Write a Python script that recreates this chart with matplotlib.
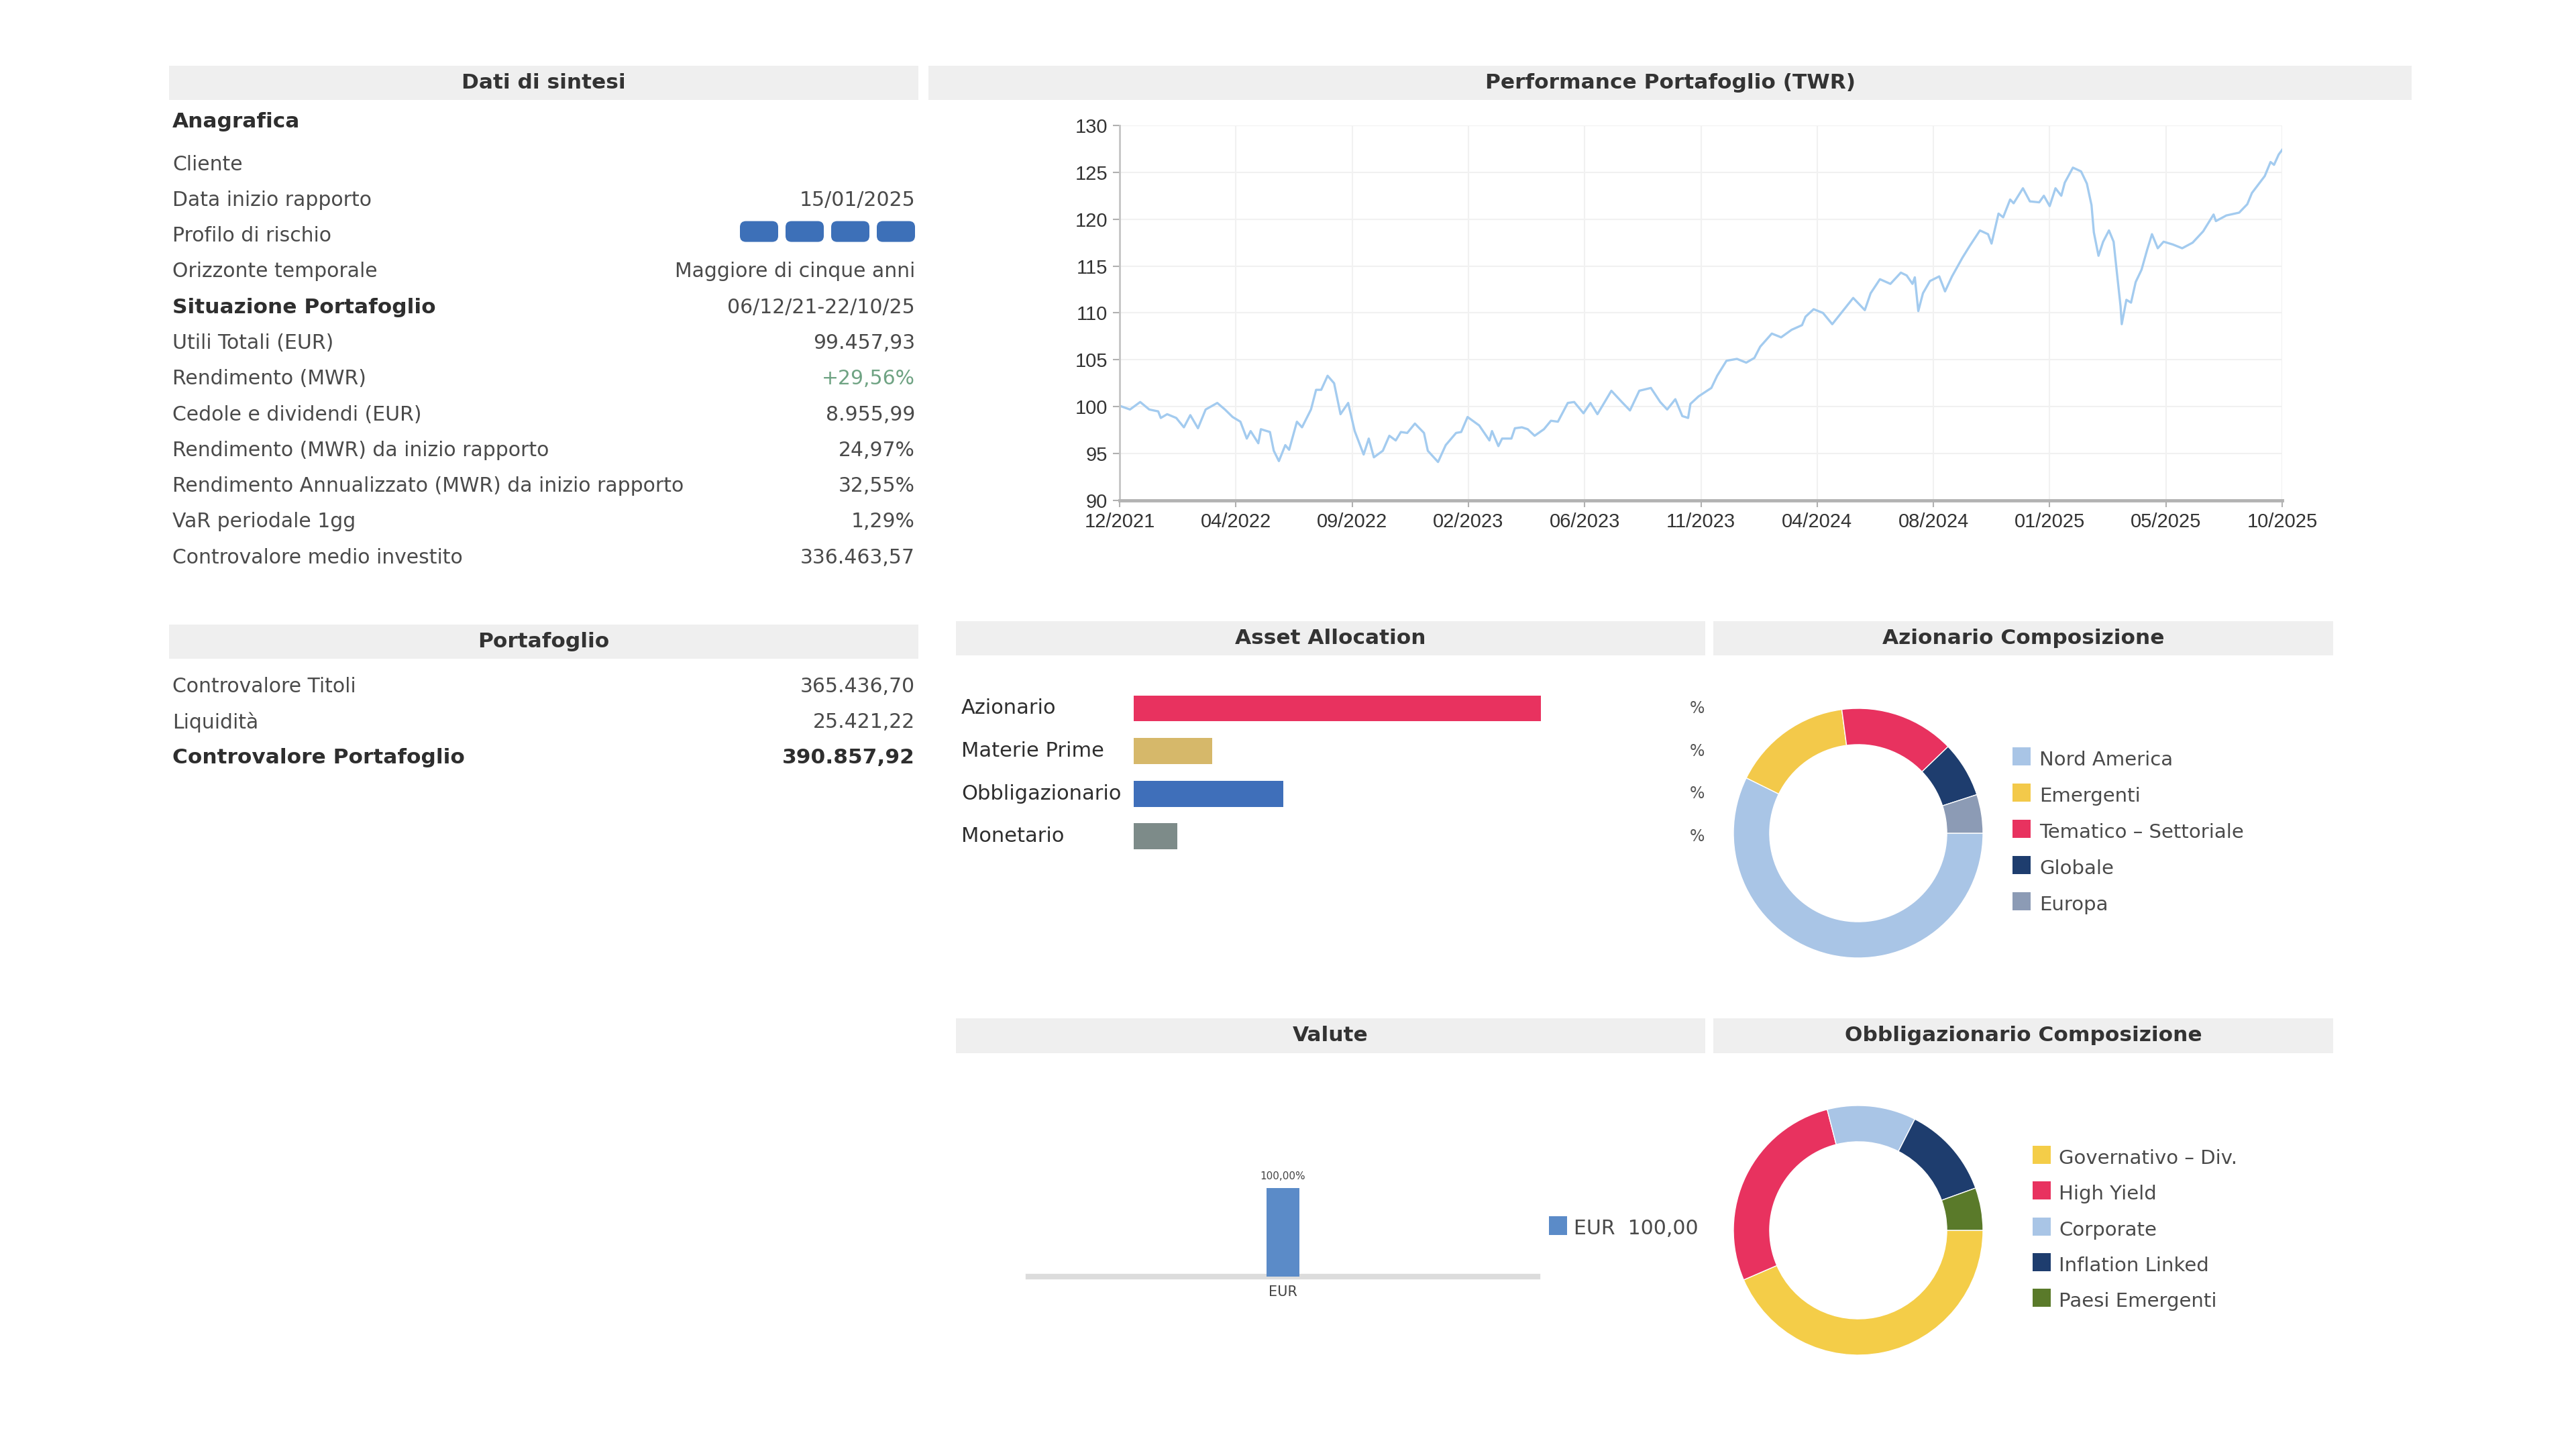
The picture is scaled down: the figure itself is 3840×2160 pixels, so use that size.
import matplotlib
matplotlib.use("Agg")
import matplotlib.pyplot as plt
from matplotlib.patches import Rectangle, FancyBboxPatch

plt.rcParams['font.family'] = ['DejaVu Sans']

# --- dati di sintesi ---
anagrafica_labels = ["Cliente", "Data inizio rapporto", "Profilo di rischio", "Orizzonte temporale"]
anagrafica_values = ["", "15/01/2025", "", "Maggiore di cinque anni"]
risk_level = 4
periodo = "06/12/21-22/10/25"
situazione_labels = ["Utili Totali (EUR)", "Rendimento (MWR)", "Cedole e dividendi (EUR)",
                     "Rendimento (MWR) da inizio rapporto",
                     "Rendimento Annualizzato (MWR) da inizio rapporto",
                     "VaR periodale 1gg", "Controvalore medio investito"]
situazione_values = ["99.457,93", "+29,56%", "8.955,99", "24,97%", "32,55%", "1,29%", "336.463,57"]

portafoglio_labels = ["Controvalore Titoli", "Liquidità", "Controvalore Portafoglio"]
portafoglio_values = ["365.436,70", "25.421,22", "390.857,92"]

# --- performance (posizione in intervalli fra i tick dell'asse x) ---
perf_ticks = ["12/2021", "04/2022", "09/2022", "02/2023", "06/2023", "11/2023",
              "04/2024", "08/2024", "01/2025", "05/2025", "10/2025"]
perf_x = [0.0, 0.089, 0.177, 0.255, 0.332, 0.354, 0.409, 0.487, 0.553, 0.608, 0.674, 0.74,
          0.84, 0.906, 0.972, 1.039, 1.094, 1.127, 1.193, 1.215, 1.293, 1.326, 1.37, 1.425,
          1.458, 1.525, 1.569, 1.646, 1.69, 1.734, 1.789, 1.845, 1.9, 1.966, 2.022, 2.099,
          2.143, 2.187, 2.264, 2.32, 2.375, 2.419, 2.474, 2.54, 2.618, 2.651, 2.739, 2.805,
          2.894, 2.938, 2.993, 3.093, 3.181, 3.203, 3.258, 3.29, 3.37, 3.4, 3.46, 3.51,
          3.57, 3.65, 3.71, 3.77, 3.855, 3.91, 3.99, 4.05, 4.11, 4.23, 4.32, 4.39, 4.47,
          4.57, 4.65, 4.71, 4.78, 4.84, 4.89, 4.91, 4.98, 5.09, 5.14, 5.22, 5.31, 5.39,
          5.46, 5.51, 5.61, 5.69, 5.78, 5.87, 5.9, 5.97, 6.05, 6.13, 6.22, 6.31, 6.41,
          6.46, 6.54, 6.63, 6.72, 6.77, 6.82, 6.84, 6.87, 6.91, 6.97, 7.05, 7.1, 7.16,
          7.25, 7.31, 7.4, 7.47, 7.5, 7.56, 7.6, 7.66, 7.69, 7.77, 7.83, 7.91, 7.95, 8.0,
          8.05, 8.1, 8.13, 8.2, 8.27, 8.32, 8.36, 8.38, 8.42, 8.46, 8.51, 8.55, 8.58,
          8.61, 8.62, 8.66, 8.7, 8.74, 8.79, 8.84, 8.88, 8.93, 8.98, 9.06, 9.14, 9.23,
          9.32, 9.41, 9.43, 9.52, 9.63, 9.7, 9.74, 9.85, 9.9, 9.93, 9.97, 10.0]
perf_val = [100.1, 99.7, 100.5, 99.7, 99.5, 98.8, 99.2, 98.8, 97.8, 99.1, 97.7, 99.7,
            100.4, 99.7, 98.9, 98.4, 96.6, 97.4, 96.1, 97.6, 97.3, 95.3, 94.2, 95.9,
            95.4, 98.4, 97.8, 99.7, 101.8, 101.8, 103.3, 102.5, 99.2, 100.4, 97.4, 94.9,
            96.6, 94.6, 95.3, 96.9, 96.4, 97.3, 97.2, 98.2, 97.2, 95.3, 94.1, 95.9,
            97.2, 97.3, 98.9, 98.0, 96.4, 97.4, 95.8, 96.6, 96.6, 97.7, 97.8, 97.6,
            96.9, 97.6, 98.5, 98.4, 100.4, 100.5, 99.3, 100.4, 99.2, 101.7, 100.5, 99.6, 101.7,
            102.0, 100.5, 99.7, 100.8, 99.0, 98.8, 100.3, 101.1, 102.0, 103.3, 104.9, 105.1, 104.7,
            105.2, 106.4, 107.8, 107.4, 108.2, 108.7, 109.6, 110.4, 110.0, 108.8, 110.2, 111.6, 110.3,
            112.1, 113.6, 113.1, 114.3, 114.0, 113.1, 113.8, 110.2, 112.1, 113.4, 113.9, 112.3, 113.9,
            115.9, 117.1, 118.8, 118.4, 117.4, 120.6, 120.2, 122.1, 121.7, 123.3, 121.9, 121.8, 122.5, 121.4,
            123.3, 122.5, 123.9, 125.5, 125.1, 123.8, 121.5, 118.6, 116.1, 117.6, 118.8, 117.6, 114.1,
            110.7, 108.8, 111.4, 111.1, 113.3, 114.6, 116.8, 118.4, 116.9, 117.6, 117.3, 116.9, 117.5,
            118.7, 120.5, 119.8, 120.4, 120.7, 121.6, 122.8, 124.6, 126.1, 125.8, 126.9, 127.4]

# --- asset allocation ---
asset_labels = ["Azionario", "Materie Prime", "Obbligazionario", "Monetario"]
asset_values = [60.0, 11.6, 22.0, 6.4]
asset_colors = ["#e8325f", "#d6b86a", "#3f6fba", "#7d8b89"]

# --- azionario composizione ---
az_labels = ["Nord America", "Emergenti", "Tematico - Settoriale", "Globale", "Europa"]
az_values = [57.3, 15.6, 14.9, 7.2, 5.0]
az_colors = ["#a9c5e6", "#f3c94a", "#e8325f", "#1e3d6e", "#8c9bb5"]

# --- obbligazionario composizione ---
ob_labels = ["Governativo - Div.", "High Yield", "Corporate", "Inflation Linked", "Paesi Emergenti"]
ob_values = [43.5, 27.5, 11.5, 12.0, 5.5]
ob_colors = ["#f4cd48", "#e8325f", "#a9c5e6", "#1e3d6e", "#5a7a2a"]

# --- valute ---
valute_labels = ["EUR"]
valute_values = [100.0]
valute_text = "100,00"

W, H = 3840, 2160
fig = plt.figure(figsize=(W / 100, H / 100), dpi=100)
fig.patch.set_facecolor("white")


def px_axes(x, y, w, h):
    return fig.add_axes([x / W, 1 - (y + h) / H, w / W, h / H])


bg = px_axes(0, 0, W, H)
bg.set_xlim(0, W)
bg.set_ylim(H, 0)
bg.axis("off")

LAB = "#4a4a4a"
DARK = "#2e2e2e"
FS = 21.5    # testo tabelle
FSB = 22.5   # testo in grassetto


def header(x0, x1, y0, y1, title):
    bg.add_patch(Rectangle((x0, y0), x1 - x0, y1 - y0, color="#efefef", lw=0))
    bg.text((x0 + x1) / 2, (y0 + y1) / 2, title, ha="center", va="center",
            fontsize=22.5, fontweight="bold", color="#333333")


header(252, 1369, 98, 149, "Dati di sintesi")
header(1384, 3595, 98, 149, "Performance Portafoglio (TWR)")
header(252, 1369, 931, 982, "Portafoglio")
header(1425, 2542, 926, 977, "Asset Allocation")
header(2554, 3478, 926, 977, "Azionario Composizione")
header(1425, 2542, 1518, 1570, "Valute")
header(2554, 3478, 1518, 1570, "Obbligazionario Composizione")

# tabella dati di sintesi
xl, xr, step = 257, 1364, 53.3
bg.text(xl, 181, "Anagrafica", ha="left", va="center", fontsize=FSB, fontweight="bold", color=DARK)
for i, (lab, val) in enumerate(zip(anagrafica_labels, anagrafica_values)):
    y = 245 + i * step
    bg.text(xl, y, lab, ha="left", va="center", fontsize=FS, color=LAB)
    if val:
        bg.text(xr, y, val, ha="right", va="center", fontsize=FS, color=LAB)
    if lab == "Profilo di rischio":
        bw, gap = 57, 11
        for k in range(risk_level):
            x0 = xr - (risk_level - k) * bw - (risk_level - 1 - k) * gap
            bg.add_patch(FancyBboxPatch((x0, y - 22), bw, 31,
                                        boxstyle="round,pad=0,rounding_size=9",
                                        fc="#3d70b8", ec="none"))
ys = 245 + len(anagrafica_labels) * step
bg.text(xl, ys, "Situazione Portafoglio", ha="left", va="center", fontsize=FSB,
        fontweight="bold", color=DARK)
bg.text(xr, ys, periodo, ha="right", va="center", fontsize=FS, color=LAB)
for i, (lab, val) in enumerate(zip(situazione_labels, situazione_values)):
    y = ys + (i + 1) * step
    bg.text(xl, y, lab, ha="left", va="center", fontsize=FS, color=LAB)
    col = "#6fa383" if val.startswith("+") else LAB
    bg.text(xr, y, val, ha="right", va="center", fontsize=FS, color=col)

# tabella portafoglio
for i, (lab, val) in enumerate(zip(portafoglio_labels, portafoglio_values)):
    y = 1024 + i * 52.5
    last = i == len(portafoglio_labels) - 1
    bg.text(xl, y, lab, ha="left", va="center", fontsize=FSB if last else FS,
            fontweight="bold" if last else "normal", color=DARK if last else LAB)
    bg.text(xr, y, val, ha="right", va="center", fontsize=FSB if last else FS,
            fontweight="bold" if last else "normal", color=DARK if last else LAB)

# performance
ax = px_axes(1669, 187, 1733, 559)
ax.plot(perf_x, perf_val, color="#a3cbef", lw=2.4)
ax.set_xlim(0, len(perf_ticks) - 1)
ax.set_ylim(90, 130)
ax.set_yticks(range(90, 131, 5))
ax.set_xticks(range(len(perf_ticks)))
ax.set_xticklabels(perf_ticks)
ax.grid(color="#f1f1f1", lw=1.5)
ax.set_axisbelow(True)
for s in ["top", "right"]:
    ax.spines[s].set_visible(False)
ax.spines["left"].set_color("#c4c4c4")
ax.spines["left"].set_linewidth(2)
ax.spines["bottom"].set_color("#b3b3b3")
ax.spines["bottom"].set_linewidth(3.5)
ax.tick_params(length=7, width=1.5, color="#b0b0b0", labelsize=21, labelcolor="#333333", pad=6)
for t in ax.get_xticklabels() + ax.get_yticklabels():
    t.set_family("Liberation Sans")
bg.add_patch(Rectangle((1688, 213), 15, 25, fc="#8fb8dc", ec="#3d6d9a", lw=2))
bg.text(1983, 227, "TOTALE", ha="center", va="center", fontsize=21,
        family="Liberation Sans", color="#333333")

# asset allocation
aa = px_axes(1690, 1020, 840, 265)
pos = list(range(len(asset_labels)))
aa.barh(pos, asset_values, height=0.61, color=asset_colors)
aa.set_xlim(0, 83)
aa.set_ylim(3.6, -0.565)
aa.axis("off")
for i, lab in enumerate(asset_labels):
    aa.text(-0.306, i, lab, transform=aa.get_yaxis_transform(), ha="left", va="center",
            fontsize=22, color=DARK)
    aa.text(1.0, i, "%", transform=aa.get_yaxis_transform(), ha="center", va="center",
            fontsize=17, color="#555555")


def donut(cx, cy, r, values, colors, labels, sq_x, txt_x, y0, dy):
    a = px_axes(cx - r, cy - r, 2 * r, 2 * r)
    a.pie(values, colors=colors, startangle=0, counterclock=False, radius=1,
          wedgeprops=dict(width=0.29, edgecolor="white", linewidth=1))
    a.set_xlim(-1.0, 1.0)
    a.set_ylim(-1.0, 1.0)
    a.set_aspect("equal")
    for i, (lab, col) in enumerate(zip(labels, colors)):
        y = y0 + i * dy
        bg.add_patch(Rectangle((sq_x, y - 19), 27, 27, color=col, lw=0))
        bg.text(txt_x, y, lab.replace(" - ", " \u2013 "), ha="left", va="center",
                fontsize=21, color=LAB)


donut(2770, 1242, 186, az_values, az_colors, az_labels, 3000, 3040, 1133, 54)
donut(2770, 1834, 186, ob_values, ob_colors, ob_labels, 3030, 3069, 1727, 53.3)

# valute
va = px_axes(1533, 1771, 759, 132)
va.bar(range(len(valute_labels)), valute_values, width=0.0646, color="#5b8bc8", zorder=3)
va.set_xlim(-0.5, 0.5)
va.set_ylim(0, 100)
va.axhline(0, color="#dcdcdc", lw=6, zorder=2, clip_on=False)
va.axis("off")
for i, (lab, v) in enumerate(zip(valute_labels, valute_values)):
    va.annotate(f"{v:.2f}%".replace(".", ","), (i, v), xytext=(0, 7), textcoords="offset points",
                ha="center", va="bottom", fontsize=11, color="#444444", annotation_clip=False)
    va.annotate(lab, (i, 0), xytext=(0, -9), textcoords="offset points",
                ha="center", va="top", fontsize=15, color="#444444", annotation_clip=False)
bg.add_patch(Rectangle((2309, 1813), 27, 28, color="#5b8bc8", lw=0))
bg.text(2346, 1832, f"{valute_labels[0]}  {valute_text}", ha="left", va="center",
        fontsize=21.5, color=LAB)

fig.savefig("out.png", dpi=100, facecolor="white")
